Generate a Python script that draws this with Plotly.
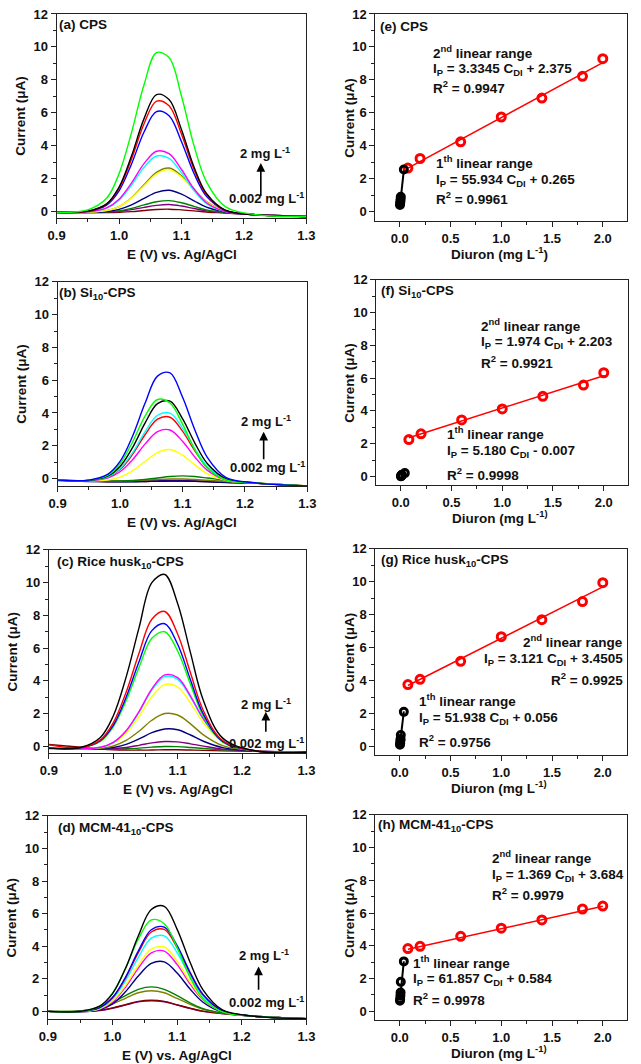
import plotly.graph_objects as go

W, H = 641, 1064

# ---------------- data ----------------
E_GRID = [0.90, 0.95, 0.98, 1.00, 1.02, 1.04, 1.06, 1.08, 1.10, 1.12, 1.14, 1.17, 1.22, 1.30]

WINE, PURPLE, DKGREEN, NAVY, OLIVE = "#800000", "#800080", "#008000", "#000080", "#808000"
YELLOW, CYAN, MAGENTA, BLUE, RED, BLACK, GREEN = "#FFFF00", "#00FFFF", "#FF00FF", "#0000FF", "#FF0000", "#000000", "#00FF00"

# (a) CPS
CPS_COLORS = [WINE, PURPLE, DKGREEN, NAVY, OLIVE, YELLOW, CYAN, MAGENTA, BLUE, RED, BLACK, GREEN]
CPS_CURRENTS = [
    [-0.08, -0.08, -0.07, -0.05, -0.01, 0.06, 0.12, 0.14, 0.1, 0.04, -0.03, -0.09, -0.2, -0.3],
    [-0.05, -0.05, -0.03, 0.01, 0.11, 0.25, 0.37, 0.42, 0.33, 0.18, 0.04, -0.08, -0.2, -0.3],
    [-0.05, -0.05, -0.02, 0.04, 0.19, 0.4, 0.59, 0.66, 0.53, 0.31, 0.1, -0.06, -0.2, -0.3],
    [-0.05, -0.05, 0.0, 0.13, 0.4, 0.79, 1.16, 1.29, 1.05, 0.65, 0.26, -0.03, -0.2, -0.3],
    [-0.05, -0.04, 0.05, 0.3, 0.84, 1.62, 2.38, 2.64, 2.17, 1.36, 0.6, 0.04, -0.2, -0.3],
    [-0.05, -0.04, 0.05, 0.29, 0.81, 1.56, 2.29, 2.54, 2.09, 1.31, 0.57, 0.03, -0.2, -0.3],
    [-0.05, -0.02, 0.2, 0.69, 1.6, 2.68, 3.37, 3.23, 2.35, 1.26, 0.48, -0.01, -0.2, -0.3],
    [-0.05, -0.02, 0.22, 0.75, 1.74, 2.91, 3.66, 3.51, 2.55, 1.37, 0.53, 0.0, -0.2, -0.3],
    [-0.05, 0.01, 0.39, 1.26, 2.89, 4.83, 6.07, 5.82, 4.24, 2.31, 0.92, 0.06, -0.2, -0.3],
    [-0.05, 0.01, 0.43, 1.40, 3.19, 5.33, 6.7, 6.43, 4.69, 2.55, 1.02, 0.07, -0.2, -0.3],
    [-0.05, 0.02, 0.46, 1.48, 3.38, 5.64, 7.1, 6.8, 4.97, 2.7, 1.09, 0.08, -0.2, -0.3],
    [-0.05, 0.1, 0.8, 2.3, 4.8, 7.7, 9.65, 9.35, 7.0, 4.0, 1.8, 0.3, -0.2, -0.3],
]

# (b) Si10-CPS
SI_COLORS = [WINE, PURPLE, NAVY, OLIVE, DKGREEN, YELLOW, MAGENTA, RED, CYAN, BLACK, GREEN, BLUE]
SI_CURRENTS = [
    [-0.1, -0.15, -0.18, -0.19, -0.19, -0.18, -0.17, -0.16, -0.16, -0.17, -0.19, -0.23, -0.3, -0.46],
    [-0.1, -0.16, -0.18, -0.18, -0.17, -0.15, -0.13, -0.12, -0.12, -0.14, -0.17, -0.22, -0.3, -0.47],
    [-0.12, -0.18, -0.2, -0.2, -0.2, -0.18, -0.16, -0.15, -0.15, -0.17, -0.2, -0.24, -0.3, -0.45],
    [-0.1, -0.15, -0.16, -0.15, -0.14, -0.1, -0.06, -0.03, -0.03, -0.06, -0.11, -0.18, -0.28, -0.45],
    [-0.1, -0.15, -0.16, -0.15, -0.12, -0.06, 0.03, 0.12, 0.16, 0.12, 0.03, -0.12, -0.28, -0.45],
    [-0.1, -0.14, -0.1, 0.08, 0.47, 1.04, 1.58, 1.77, 1.43, 0.83, 0.29, -0.12, -0.28, -0.45],
    [-0.1, -0.13, 0.03, 0.41, 1.14, 2.1, 2.86, 2.96, 2.27, 1.3, 0.5, -0.09, -0.28, -0.45],
    [-0.1, -0.12, 0.08, 0.55, 1.47, 2.67, 3.62, 3.74, 2.89, 1.68, 0.68, -0.06, -0.28, -0.45],
    [-0.1, -0.12, 0.09, 0.6, 1.57, 2.85, 3.86, 3.99, 3.08, 1.8, 0.74, -0.05, -0.28, -0.45],
    [-0.1, -0.12, 0.14, 0.73, 1.88, 3.38, 4.57, 4.72, 3.66, 2.15, 0.9, -0.02, -0.28, -0.45],
    [-0.1, -0.1, 0.19, 0.9, 2.23, 3.81, 4.82, 4.61, 3.33, 1.74, 0.62, -0.09, -0.28, -0.45],
    [-0.1, -0.1, 0.25, 1.04, 2.58, 4.59, 6.25, 6.45, 4.97, 2.95, 1.27, 0.05, -0.28, -0.45],
]

# (c) Rice husk10-CPS
RH_COLORS = [WINE, DKGREEN, PURPLE, NAVY, OLIVE, YELLOW, CYAN, MAGENTA, GREEN, BLUE, RED, BLACK]
RH_CURRENTS = [
    [0.12, -0.05, -0.15, -0.2, -0.22, -0.22, -0.22, -0.2, -0.2, -0.22, -0.24, -0.27, -0.3, -0.35],
    [-0.12, -0.17, -0.18, -0.17, -0.14, -0.1, -0.04, 0.0, -0.01, -0.06, -0.12, -0.2, -0.3, -0.35],
    [-0.1, -0.15, -0.17, -0.13, -0.06, 0.07, 0.22, 0.3, 0.28, 0.16, 0.02, -0.16, -0.28, -0.35],
    [-0.1, -0.15, -0.14, -0.06, 0.13, 0.46, 0.84, 1.07, 1.02, 0.7, 0.32, -0.07, -0.28, -0.35],
    [-0.1, -0.15, -0.12, 0.03, 0.37, 0.93, 1.6, 2.01, 1.92, 1.38, 0.71, 0.05, -0.27, -0.35],
    [-0.1, -0.14, -0.07, 0.2, 0.81, 1.83, 3.04, 3.78, 3.63, 2.65, 1.45, 0.26, -0.26, -0.35],
    [-0.1, -0.14, -0.05, 0.24, 0.93, 2.08, 3.44, 4.27, 4.1, 3.01, 1.65, 0.32, -0.26, -0.35],
    [-0.1, -0.14, -0.05, 0.25, 0.96, 2.13, 3.52, 4.37, 4.2, 3.08, 1.69, 0.33, -0.26, -0.35],
    [-0.1, -0.08, 0.31, 1.2, 2.79, 4.82, 6.6, 7.0, 5.83, 3.79, 1.83, 0.27, -0.27, -0.35],
    [-0.1, -0.08, 0.35, 1.29, 3.0, 5.17, 7.07, 7.49, 6.24, 4.06, 1.97, 0.31, -0.27, -0.35],
    [0.1, -0.07, 0.4, 1.44, 3.31, 5.69, 7.77, 8.24, 6.87, 4.48, 2.18, 0.36, -0.26, -0.35],
    [-0.1, -0.05, 0.55, 1.86, 4.23, 7.24, 10.0, 10.5, 8.73, 5.71, 2.81, 0.51, -0.26, -0.35],
]

# (d) MCM-41_10-CPS
MCM_COLORS = [PURPLE, WINE, OLIVE, DKGREEN, NAVY, MAGENTA, YELLOW, CYAN, RED, BLUE, GREEN, BLACK]
MCM_CURRENTS = [
    [0.0, -0.01, 0.05, 0.19, 0.39, 0.58, 0.65, 0.59, 0.39, 0.18, 0.0, -0.14, -0.3, -0.45],
    [0.0, -0.01, 0.06, 0.21, 0.41, 0.61, 0.68, 0.61, 0.4, 0.19, 0.01, -0.14, -0.3, -0.45],
    [0.0, 0.02, 0.18, 0.45, 0.8, 1.14, 1.26, 1.14, 0.79, 0.43, 0.13, -0.11, -0.3, -0.45],
    [0.0, 0.03, 0.22, 0.54, 0.97, 1.35, 1.5, 1.35, 0.96, 0.52, 0.17, -0.1, -0.3, -0.45],
    [0.0, -0.03, 0.1, 0.46, 1.2, 2.17, 2.94, 3.04, 2.35, 1.37, 0.56, -0.05, -0.3, -0.45],
    [0.0, -0.02, 0.14, 0.58, 1.48, 2.65, 3.59, 3.7, 2.87, 1.69, 0.71, -0.02, -0.3, -0.45],
    [0.0, -0.02, 0.16, 0.63, 1.58, 2.83, 3.82, 3.95, 3.07, 1.81, 0.76, -0.01, -0.3, -0.45],
    [0.0, -0.02, 0.2, 0.75, 1.87, 3.32, 4.49, 4.63, 3.6, 2.14, 0.92, 0.01, -0.3, -0.45],
    [0.0, -0.01, 0.23, 0.83, 2.03, 3.61, 4.87, 5.03, 3.91, 2.33, 1.01, 0.03, -0.3, -0.45],
    [0.0, -0.01, 0.23, 0.85, 2.09, 3.71, 5.01, 5.17, 4.03, 2.4, 1.04, 0.04, -0.3, -0.45],
    [0.0, 0.0, 0.31, 1.11, 2.63, 4.44, 5.61, 5.38, 3.91, 2.08, 0.79, -0.03, -0.3, -0.45],
    [0.0, 0.0, 0.32, 1.09, 2.63, 4.64, 6.25, 6.45, 5.03, 3.01, 1.32, 0.09, -0.3, -0.45],
]

# calibration (Diuron, mg/L)
CONC_LOW = [0.002, 0.004, 0.006, 0.008, 0.01, 0.04]
CONC_HIGH = [0.08, 0.2, 0.6, 1.0, 1.4, 1.8, 2.0]
FIT_LOW_X = [0.002, 0.04]
FIT_HIGH_X = [0.08, 2.0]

CPS_LOW = [0.4, 0.5, 0.6, 0.75, 0.9, 2.55]
CPS_HIGH = [2.64, 3.22, 4.23, 5.74, 6.89, 8.21, 9.28]
CPS_FIT_LOW = [0.38, 2.50]
CPS_FIT_HIGH = [2.64, 9.04]

SI_LOW = [0.0, 0.02, 0.04, 0.07, 0.1, 0.2]
SI_HIGH = [2.25, 2.6, 3.45, 4.12, 4.89, 5.58, 6.33]
SI_FIT_LOW = [0.003, 0.2]
SI_FIT_HIGH = [2.36, 6.15]

RH_LOW = [0.1, 0.2, 0.35, 0.45, 0.7, 2.1]
RH_HIGH = [3.76, 4.08, 5.17, 6.67, 7.7, 8.8, 9.95]
RH_FIT_LOW = [0.16, 2.13]
RH_FIT_HIGH = [3.70, 9.69]

MCM_LOW = [0.65, 0.75, 0.95, 1.15, 1.8, 3.05]
MCM_HIGH = [3.83, 3.97, 4.58, 5.08, 5.58, 6.25, 6.43]
MCM_FIT_LOW = [0.71, 3.06]
MCM_FIT_HIGH = [3.79, 6.42]

# ---------------- layout helpers ----------------
FONT = "Liberation Sans, Arial, sans-serif"


def px(x):
    return x / W


def py(y):
    return 1 - y / H


fig = go.Figure()

# panel boxes (pixels): idx -> (x0, x1, y0, y1, yrange)
LEFT = {
    1: (49, 306, 7, 213, [-0.42, 12]),
    3: (50, 307, 277, 483, [-0.48, 12]),
    5: (41, 306, 547, 752, [-0.42, 12]),
    7: (40, 306, 815, 1020, [-0.49, 12]),
}
RIGHT = {
    2: (377, 636, 7, 216, [-0.6, 12]),
    4: (378, 637, 275, 482, [-0.55, 12]),
    6: (377, 636, 546, 754, [-0.54, 12]),
    8: (377, 636, 814, 1021, [-0.55, 12]),
}

axis_common = dict(
    showline=True, linecolor="#222", linewidth=1, mirror=True,
    ticks="outside", ticklen=5, tickwidth=1, tickcolor="#222",
    showgrid=False, zeroline=False,
    tickfont=dict(family=FONT, size=13, color="#111", weight="bold"),
)

layout_axes = {}
for idx, (x0, x1, y0, y1, yr) in {**LEFT, **RIGHT}.items():
    left = idx in LEFT
    xa = "xaxis" if idx == 1 else f"xaxis{idx}"
    ya = "yaxis" if idx == 1 else f"yaxis{idx}"
    yname = "y" if idx == 1 else f"y{idx}"
    xname = "x" if idx == 1 else f"x{idx}"
    if left:
        xr, dt, mdt, tf = [0.9, 1.3], 0.1, 0.05, ".1f"
    else:
        xr, dt, mdt, tf = [-0.24, 2.24], 0.5, 0.25, ".1f"
    layout_axes[xa] = dict(axis_common, domain=[px(x0), px(x1)], range=xr, anchor=yname,
                           tickmode="linear", tick0=0.0 if not left else 0.9, dtick=dt, tickformat=tf,
                           minor=dict(ticks="outside", ticklen=3, tickcolor="#222", dtick=mdt,
                                      tick0=0.0 if not left else 0.9))
    layout_axes[ya] = dict(axis_common, domain=[py(y1), py(y0)], range=yr, anchor=xname,
                           tickmode="linear", tick0=0, dtick=2,
                           minor=dict(ticks="outside", ticklen=3, tickcolor="#222", dtick=1, tick0=0))


def axes_names(idx):
    return ("x" if idx == 1 else f"x{idx}", "y" if idx == 1 else f"y{idx}")


# CV traces
for idx, cols, curves in [(1, CPS_COLORS, CPS_CURRENTS), (3, SI_COLORS, SI_CURRENTS),
                          (5, RH_COLORS, RH_CURRENTS), (7, MCM_COLORS, MCM_CURRENTS)]:
    xn, yn = axes_names(idx)
    for c, cur in zip(cols, curves):
        fig.add_trace(go.Scatter(x=E_GRID, y=cur, mode="lines", xaxis=xn, yaxis=yn,
                                 line=dict(color=c, width=1.4, shape="spline", smoothing=1.0),
                                 showlegend=False, hoverinfo="skip"))

# calibration traces
for idx, low, high, flow, fhigh in [(2, CPS_LOW, CPS_HIGH, CPS_FIT_LOW, CPS_FIT_HIGH),
                                    (4, SI_LOW, SI_HIGH, SI_FIT_LOW, SI_FIT_HIGH),
                                    (6, RH_LOW, RH_HIGH, RH_FIT_LOW, RH_FIT_HIGH),
                                    (8, MCM_LOW, MCM_HIGH, MCM_FIT_LOW, MCM_FIT_HIGH)]:
    xn, yn = axes_names(idx)
    fig.add_trace(go.Scatter(x=FIT_HIGH_X, y=fhigh, mode="lines", xaxis=xn, yaxis=yn,
                             line=dict(color="#FF0000", width=1.5), showlegend=False))
    fig.add_trace(go.Scatter(x=CONC_HIGH, y=high, mode="markers", xaxis=xn, yaxis=yn,
                             marker=dict(symbol="circle-open", size=8, color="#FF0000",
                                         line=dict(width=3, color="#FF0000")), showlegend=False))
    fig.add_trace(go.Scatter(x=FIT_LOW_X, y=flow, mode="lines", xaxis=xn, yaxis=yn,
                             line=dict(color="#000000", width=2), showlegend=False))
    fig.add_trace(go.Scatter(x=CONC_LOW, y=low, mode="markers", xaxis=xn, yaxis=yn,
                             marker=dict(symbol="circle-open", size=7, color="#000000",
                                         line=dict(width=3, color="#000000")), showlegend=False))

annotations = []
BF = dict(family=FONT, size=13.5, color="#111", weight="bold")
LF = dict(family=FONT, size=13.5, color="#111", weight="bold")
AF = dict(family=FONT, size=13.5, color="#111", weight="bold")
CF = dict(family=FONT, size=13, color="#111", weight="bold")

# axis titles as annotations
for idx, (x0, x1, y0, y1, yr) in LEFT.items():
    annotations.append(dict(text="Current (μA)", xref="paper", yref="paper", x=px(x0 - 37), y=py((y0 + y1) / 2),
                            textangle=-90, showarrow=False, font=BF, xanchor="center", yanchor="middle"))
    annotations.append(dict(text="E (V) vs. Ag/AgCl", xref="paper", yref="paper", x=px((x0 + x1) / 2),
                            y=py(y1 + 36), showarrow=False, font=BF, xanchor="center", yanchor="middle"))
XT = {2: "Diuron (mg L<sup>-1</sup>)", 4: "Diuron (mg L<sup>-1)</sup>",
      6: "Diuron (mg L<sup>-1)</sup>", 8: "Diuron (mg L<sup>-1)</sup>"}
for idx, (x0, x1, y0, y1, yr) in RIGHT.items():
    annotations.append(dict(text="Current (μA)", xref="paper", yref="paper", x=px(x0 - 27), y=py((y0 + y1) / 2),
                            textangle=-90, showarrow=False, font=BF, xanchor="center", yanchor="middle"))
    annotations.append(dict(text=XT[idx], xref="paper", yref="paper", x=px((x0 + x1) / 2 - 2),
                            y=py(y1 + 32), showarrow=False, font=BF, xanchor="center", yanchor="middle"))

# panel labels
LABELS = [
    ("(a) CPS", 49, 18), ("(b) Si<sub>10</sub>-CPS", 49, 289),
    ("(c) Rice husk<sub>10</sub>-CPS", 47, 560), ("(d) MCM-41<sub>10</sub>-CPS", 48, 828),
    ("(e) CPS", 380, 20), ("(f) Si<sub>10</sub>-CPS", 381, 287),
    ("(g) Rice husk<sub>10</sub>-CPS", 381, 558), ("(h) MCM-41<sub>10</sub>-CPS", 378, 825),
]
for t, x, y in LABELS:
    annotations.append(dict(text=t, xref="paper", yref="paper", x=px(x), y=py(y), showarrow=False,
                            font=LF, xanchor="left", yanchor="middle"))

# concentration arrows on CV panels
ARROWS = [  # idx, text2 x, text2 y, arrow x, tail, head, low-text y
    (1, 1.190, 3.56, 1.227, 0.85, 2.95, 0.8),
    (3, 1.190, 3.5, 1.230, 1.09, 2.85, 0.73),
    (5, 1.196, 2.62, 1.237, 0.8, 2.12, 0.2),
    (7, 1.193, 3.47, 1.226, 1.24, 2.76, 0.57),
]
for idx, tx, ty, axx, tail, head, ly in ARROWS:
    xn, yn = axes_names(idx)
    annotations.append(dict(text="2 mg L<sup>-1</sup>", xref=xn, yref=yn, x=tx, y=ty, showarrow=False,
                            font=CF, xanchor="left", yanchor="middle"))
    annotations.append(dict(text="0.002 mg L<sup>-1</sup>", xref=xn, yref=yn, x=1.299, y=ly, showarrow=False,
                            font=CF, xanchor="right", yanchor="middle"))
    annotations.append(dict(text="", xref=xn, yref=yn, x=axx, y=head, ax=axx, ay=tail, axref=xn, ayref=yn,
                            showarrow=True, arrowhead=2, arrowsize=1.1, arrowwidth=1.6, arrowcolor="#000"))

# linear range texts
RANGES = [
    (2, "left", 0.31, [9.68, 8.62, 7.55], ["2<sup>nd</sup> linear range", "I<sub>P</sub> = 3.3345 C<sub>DI</sub> + 2.375", "R<sup>2</sup> = 0.9947"]),
    (2, "left", 0.34, [3.0, 1.91, 0.8], ["1<sup>th</sup> linear range", "I<sub>P</sub> = 55.934 C<sub>DI</sub> + 0.265", "R<sup>2</sup> = 0.9961"]),
    (4, "left", 0.77, [9.27, 8.19, 6.96], ["2<sup>nd</sup> linear range", "I<sub>P</sub> = 1.974 C<sub>DI</sub> + 2.203", "R<sup>2</sup> = 0.9921"]),
    (4, "left", 0.44, [2.64, 1.5, 0.16], ["1<sup>th</sup> linear range", "I<sub>P</sub> = 5.180 C<sub>DI</sub> - 0.007", "R<sup>2</sup> = 0.9998"]),
    (6, "right", 2.22, [6.41, 5.29, 4.12], ["2<sup>nd</sup> linear range", "I<sub>P</sub> = 3.121 C<sub>DI</sub> + 3.4505", "R<sup>2</sup> = 0.9925"]),
    (6, "left", 0.17, [2.8, 1.69, 0.34], ["1<sup>th</sup> linear range", "I<sub>P</sub> = 51.938 C<sub>DI</sub> + 0.056", "R<sup>2</sup> = 0.9756"]),
    (8, "left", 0.89, [9.44, 8.31, 7.14], ["2<sup>nd</sup> linear range", "I<sub>P</sub> = 1.369 C<sub>DI</sub> + 3.684", "R<sup>2</sup> = 0.9979"]),
    (8, "left", 0.11, [3.02, 1.95, 0.75], ["1<sup>th</sup> linear range", "I<sub>P</sub> = 61.857 C<sub>DI</sub> + 0.584", "R<sup>2</sup> = 0.9978"]),
]
for idx, anc, x, ys, texts in RANGES:
    xn, yn = axes_names(idx)
    for y, t in zip(ys, texts):
        annotations.append(dict(text=t, xref=xn, yref=yn, x=x, y=y, showarrow=False, font=AF,
                                xanchor=anc, yanchor="middle"))

fig.update_layout(
    width=W, height=H, margin=dict(l=0, r=0, t=0, b=0),
    paper_bgcolor="white", plot_bgcolor="white", showlegend=False,
    font=dict(family=FONT, color="#111"),
    annotations=annotations,
    **layout_axes,
)

fig.write_html("out.html")
